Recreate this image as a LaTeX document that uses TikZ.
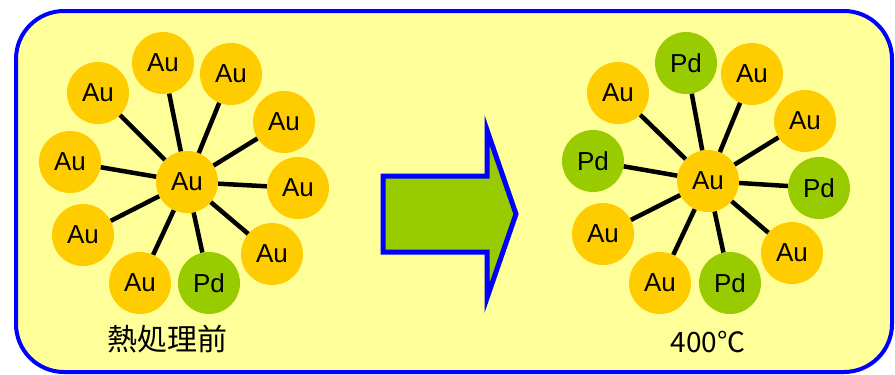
\documentclass[tikz,border=0pt]{standalone}
\usepackage{fontspec}
\setmainfont{Liberation Sans}
\newfontfamily\jpfont{Noto Sans CJK JP}
\usetikzlibrary{positioning}
\definecolor{paleyellow}{HTML}{FFFF99}
\definecolor{gold}{HTML}{FFCC00}
\definecolor{leaf}{HTML}{99CC00}

\begin{document}
\begin{tikzpicture}[x=1pt, y=-1pt,
    atom/.style={circle, fill=gold, minimum size=62pt, inner sep=0pt, font=\fontsize{26}{30}\selectfont},
    pdatom/.style={atom, fill=leaf},
    bond/.style={line width=4.5pt, black},
    caption/.style={font=\jpfont\fontsize{30}{34}\selectfont}
]
\useasboundingbox (0,0) rectangle (895,375);
\draw[blue, line width=4pt, fill=paleyellow, rounded corners=48pt] (16,11) rectangle (892,372);

% before heat treatment
\node[atom] (lc) at (187,182) {Au};
\node[atom] (l1) at (163,63) {Au};
\node[atom] (l2) at (231,74) {Au};
\node[atom] (l3) at (284,122) {Au};
\node[atom] (l4) at (298,188) {Au};
\node[atom] (l5) at (272,254) {Au};
\node[pdatom] (l6) at (209,283) {Pd};
\node[atom] (l7) at (140,283) {Au};
\node[atom] (l8) at (83,235) {Au};
\node[atom] (l9) at (70,162) {Au};
\node[atom] (l10) at (98,93) {Au};
\foreach \n in {l1,l2,l3,l4,l5,l6,l7,l8,l9,l10}
    \draw[bond] (lc) -- (\n);
\node[caption] (before) at (167,339) {熱処理前};

% arrow
\draw[blue, line width=5pt, fill=leaf, line join=miter]
    (383,176) -- (487,176) -- (487,130) -- (516,214) -- (487,298) -- (487,252) -- (383,252) -- cycle;

% after 400 C
\node[atom] (rc) at (708,181) {Au};
\node[pdatom] (r1) at (686,63) {Pd};
\node[atom] (r2) at (752,74) {Au};
\node[atom] (r3) at (805,121) {Au};
\node[pdatom] (r4) at (819,188) {Pd};
\node[atom] (r5) at (792,253) {Au};
\node[pdatom] (r6) at (730,283) {Pd};
\node[atom] (r7) at (660,283) {Au};
\node[atom] (r8) at (603,234) {Au};
\node[pdatom] (r9) at (593,161) {Pd};
\node[atom] (r10) at (618,93) {Au};
\foreach \n in {r1,r2,r3,r4,r5,r6,r7,r8,r9,r10}
    \draw[bond] (rc) -- (\n);
\node[caption, font=\jpfont\fontsize{28}{32}\selectfont] (after) at (708,342) {400℃};
\end{tikzpicture}
\end{document}
